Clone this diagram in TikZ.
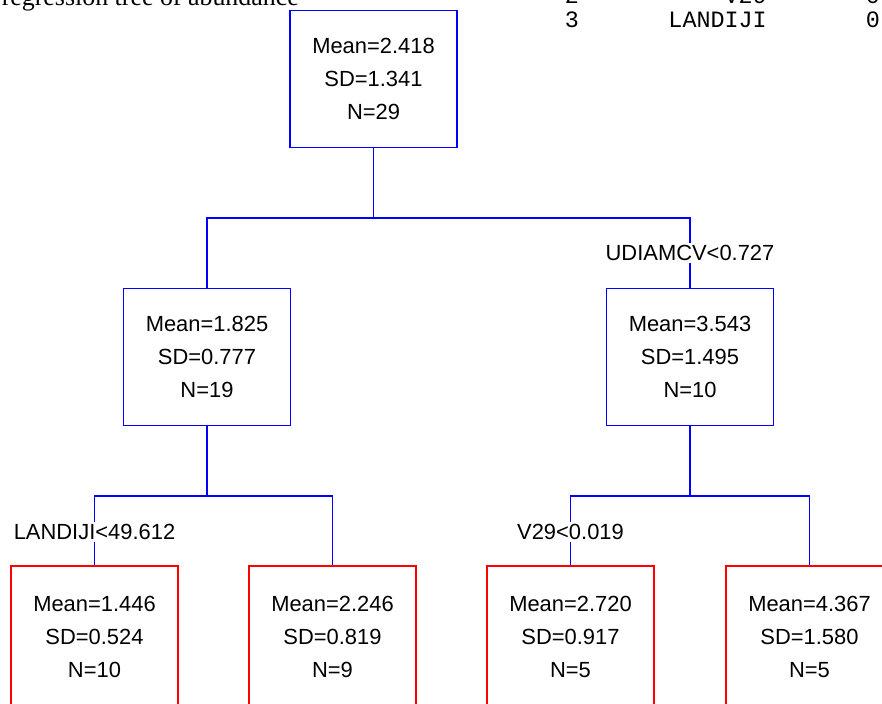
\documentclass[tikz,border=0pt]{standalone}
\usepackage{fontspec}
\setmainfont{Liberation Sans}
\newfontfamily\titlefont{Liberation Serif}
\newfontfamily\tablefont{Liberation Mono}
\begin{document}
\begin{tikzpicture}[x=1bp,y=-1bp,
  treebox/.style={draw, line width=1.8bp, minimum width=167bp, inner sep=0pt,
    align=center, font=\fontsize{22}{33}\selectfont},
  inner/.style={treebox, draw=blue, minimum height=137bp},
  leaf/.style={treebox, draw=red, minimum height=142bp},
  branch/.style={draw=blue, line width=1.8bp},
  split/.style={fill=white, inner xsep=0pt, inner ysep=2bp, font=\fontsize{22}{26}\selectfont},
  tabtext/.style={inner sep=0pt, font=\tablefont\fontsize{23.5}{24}\selectfont}]
\clip (0,0) rectangle (882,704);
\fill[white] (0,0) rectangle (882,704);

% title and variable table
\node[anchor=base east, inner sep=0pt, font=\titlefont\fontsize{26}{30}\selectfont]
  (title) at (299,6) {regression tree of abundance};
\node[tabtext, anchor=base] (r2n) at (572,4) {2};
\node[tabtext, anchor=base east] (r2v) at (767,4) {V29};
\node[tabtext, anchor=base] (r2i) at (873,4) {0};
\node[tabtext, anchor=base] (r3n) at (572,28) {3};
\node[tabtext, anchor=base east] (r3v) at (767,28) {LANDIJI};
\node[tabtext, anchor=base] (r3i) at (873,28) {0};

% tree nodes
\node[inner] (root) at (373.5,79) {Mean=2.418\\SD=1.341\\N=29};
\node[inner] (midL) at (207,357) {Mean=1.825\\SD=0.777\\N=19};
\node[inner] (midR) at (690,357) {Mean=3.543\\SD=1.495\\N=10};
\node[leaf] (leafA) at (94.5,637) {Mean=1.446\\SD=0.524\\N=10};
\node[leaf] (leafB) at (332.5,637) {Mean=2.246\\SD=0.819\\N=9};
\node[leaf] (leafC) at (570.5,637) {Mean=2.720\\SD=0.917\\N=5};
\node[leaf] (leafD) at (809.5,637) {Mean=4.367\\SD=1.580\\N=5};

% branch joints
\coordinate (j0) at (373.5,218);
\coordinate (j1) at (207,496);
\coordinate (j2) at (690,496);

% connectors
\draw[branch] (root) -- (j0);
\draw[branch] (midL.north) |- (j0) -| (midR.north);
\draw[branch] (midL) -- (j1);
\draw[branch] (leafA.north) |- (j1) -| (leafB.north);
\draw[branch] (midR) -- (j2);
\draw[branch] (leafC.north) |- (j2) -| (leafD.north);

% split labels
\node[split] (sRoot) at (690,253) {UDIAMCV<0.727};
\node[split] (sL) at (94.5,532) {LANDIJI<49.612};
\node[split] (sR) at (570.5,532) {V29<0.019};
\end{tikzpicture}
\end{document}
